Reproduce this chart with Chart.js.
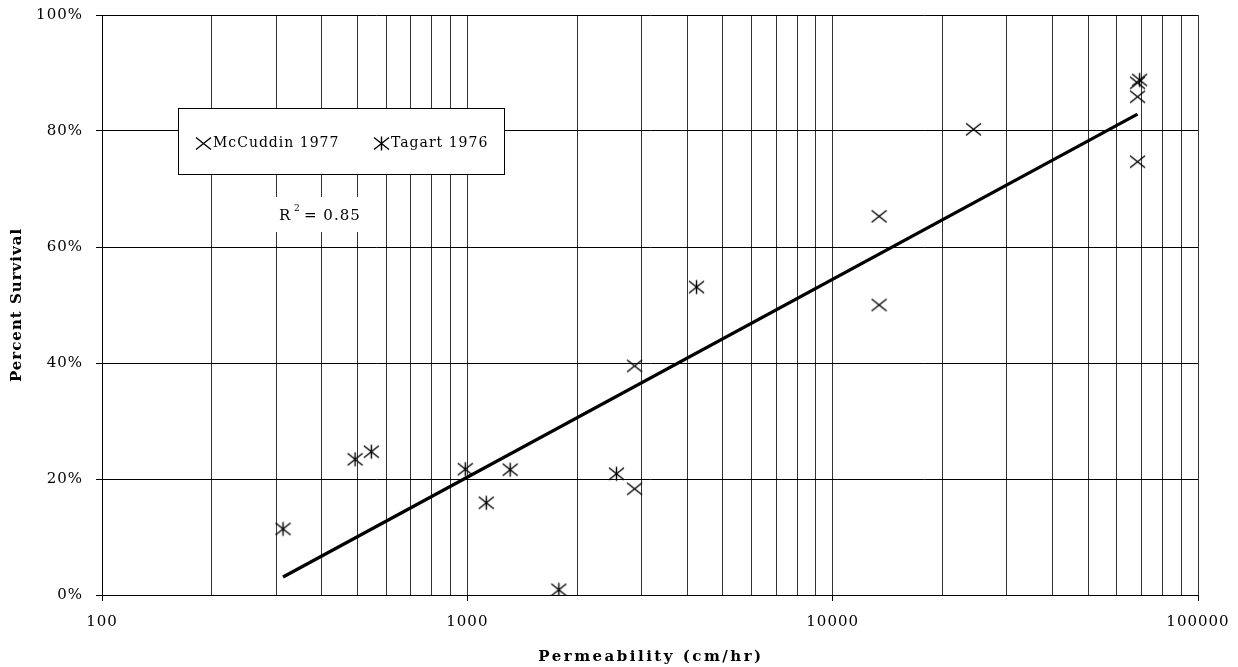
<!DOCTYPE html>
<html>
<head>
<meta charset="utf-8">
<script src="https://cdn.jsdelivr.net/npm/chart.js@4.4.1/dist/chart.umd.min.js"></script>
<style>
  html, body { margin: 0; padding: 0; background: #fff; }
  #wrap { width: 1238px; height: 667px; }
</style>
</head>
<body>
<div id="wrap"><canvas id="chart" width="1238" height="667"></canvas></div>
<script>
// values (permeability in cm/hr, survival in %)
const mccuddinX = [2870, 2870, 13400, 13400, 24300, 68300, 68300, 68300]
const mccuddinY = [39.5, 18.3, 65.3, 50.0, 80.3, 88.3, 85.9, 74.7]
const tagartX = [313, 493, 546, 987, 1127, 1310, 1780, 2560, 4240, 69200]
const tagartY = [11.4, 23.4, 24.7, 21.7, 15.9, 21.6, 0.9, 20.9, 53.1, 88.8]
const trendX = [313, 68300]
const trendY = [3.1, 82.9]

const xTicks = [100, 1000, 10000, 100000]
const yTicks = [0, 20, 40, 60, 80, 100]
const seriesNames = ["McCuddin 1977", "Tagart 1976"]
const r2Label = "0.85"

const FONT = "'DejaVu Serif', serif"

// marker images
function makeMarker(asterisk) {
  const c = document.createElement("canvas")
  c.width = 17
  c.height = 17
  const g = c.getContext("2d")
  g.strokeStyle = "#000"
  g.lineWidth = 1.4
  g.beginPath()
  g.moveTo(1, 2.5); g.lineTo(16, 14.5)
  g.moveTo(16, 2.5); g.lineTo(1, 14.5)
  if (asterisk) {
    g.moveTo(8.5, 1.5); g.lineTo(8.5, 15.5)
  }
  g.stroke()
  return c
}
const crossImg = makeMarker(false)
const starImg = makeMarker(true)

const pts = (xs, ys) => xs.map((x, i) => ({ x: x, y: ys[i] }))

// all log grid lines 100..100000
const logGrid = []
for (let d = 100; d < 100000; d *= 10) {
  for (let m = 1; m < 10; m++) logGrid.push(d * m)
}
logGrid.push(100000)

const decorations = {
  id: "decorations",
  beforeDraw(chart) {
    chart.ctx.letterSpacing = "1px"
  },
  afterDraw(chart) {
    const ctx = chart.ctx
    const area = chart.chartArea
    ctx.save()

    // legend box
    ctx.fillStyle = "#fff"
    ctx.fillRect(178.5, 108.5, 326, 66)
    ctx.strokeStyle = "#000"
    ctx.lineWidth = 1
    ctx.strokeRect(178.5, 108.5, 326, 66)
    ctx.drawImage(crossImg, 195, 135)
    ctx.drawImage(starImg, 373, 135)
    ctx.fillStyle = "#000"
    ctx.font = "14px " + FONT
    ctx.letterSpacing = "1px"
    ctx.textBaseline = "middle"
    ctx.textAlign = "left"
    ctx.fillText(seriesNames[0], 213, 143)
    ctx.fillText(seriesNames[1], 391, 143)

    // R squared label
    ctx.fillStyle = "#fff"
    ctx.fillRect(272, 197, 102, 35)
    ctx.fillStyle = "#000"
    ctx.font = "15px " + FONT
    ctx.fillText("R", 279, 216)
    ctx.font = "9px " + FONT
    ctx.fillText("2", 294, 209)
    ctx.font = "15px " + FONT
    ctx.fillText("= " + r2Label, 304, 216)

    // axis titles
    ctx.font = "bold 15px " + FONT
    ctx.letterSpacing = "2.5px"
    ctx.textAlign = "center"
    ctx.fillText("Permeability (cm/hr)", (area.left + area.right) / 2 + 1, 657)
    ctx.letterSpacing = "1px"
    ctx.translate(17, (area.top + area.bottom) / 2)
    ctx.rotate(-Math.PI / 2)
    ctx.font = "bold 15px " + FONT
    ctx.fillText("Percent Survival", 0, 0)
    ctx.restore()
  }
}

new Chart(document.getElementById("chart"), {
  type: "scatter",
  data: {
    datasets: [
      {
        label: seriesNames[0],
        data: pts(mccuddinX, mccuddinY),
        pointStyle: crossImg,
        pointRadius: 8
      },
      {
        label: seriesNames[1],
        data: pts(tagartX, tagartY),
        pointStyle: starImg,
        pointRadius: 8
      },
      {
        label: "trend",
        data: pts(trendX, trendY),
        showLine: true,
        borderColor: "#000",
        borderWidth: 3.2,
        pointRadius: 0,
        borderCapStyle: "butt"
      }
    ]
  },
  options: {
    responsive: false,
    animation: false,
    layout: { padding: { top: 15, right: 40, left: 0, bottom: 0 } },
    plugins: {
      legend: { display: false },
      tooltip: { enabled: false }
    },
    scales: {
      x: {
        type: "logarithmic",
        min: 100,
        max: 100000,
        afterBuildTicks: (scale) => { scale.ticks = logGrid.map((v) => ({ value: v })) },
        afterFit: (scale) => {
          scale.height = 72
          scale.paddingLeft = 0
          scale.paddingRight = 0
        },
        ticks: {
          autoSkip: false,
          maxRotation: 0,
          padding: 12,
          color: "#000",
          font: { family: FONT, size: 15 },
          callback: (v) => xTicks.includes(v) ? String(v) : ""
        },
        grid: {
          color: "#333",
          lineWidth: 1,
          tickLength: 6,
          tickColor: (c) => (c.tick && xTicks.includes(c.tick.value)) ? "#000" : "rgba(0,0,0,0)"
        },
        border: { color: "#000", width: 1 }
      },
      y: {
        min: 0,
        max: 100,
        afterBuildTicks: (scale) => { scale.ticks = yTicks.map((v) => ({ value: v })) },
        afterFit: (scale) => {
          scale.width = 102
          scale.paddingTop = 0
          scale.paddingBottom = 0
        },
        ticks: {
          padding: 13,
          color: "#000",
          font: { family: FONT, size: 15 },
          callback: (v) => v + "%"
        },
        grid: { color: "#000", lineWidth: 1, tickLength: 6, tickColor: "#000" },
        border: { color: "#000", width: 1 }
      }
    }
  },
  plugins: [decorations]
})
</script>
</body>
</html>
